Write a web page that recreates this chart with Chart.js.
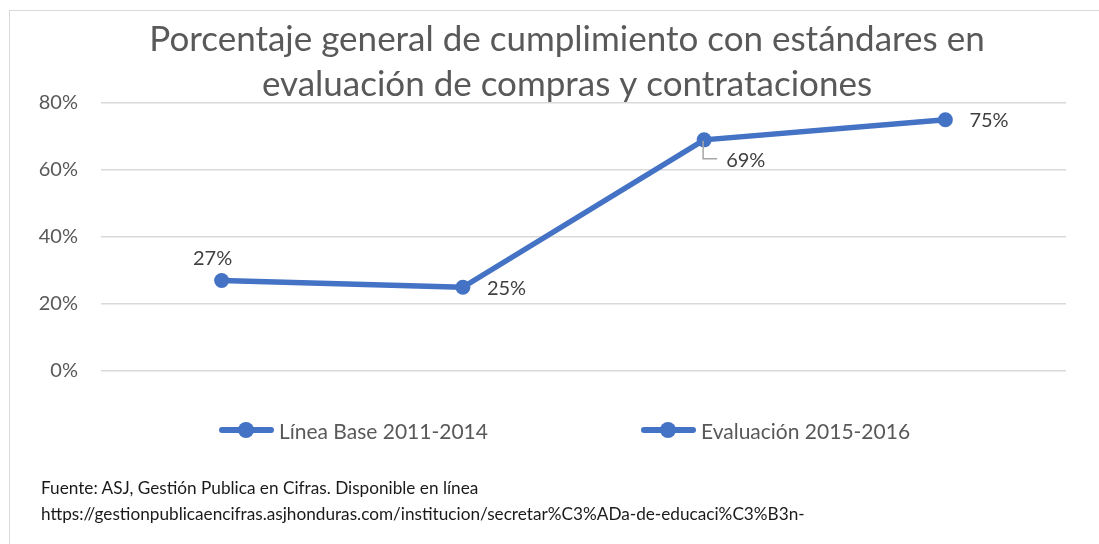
<!DOCTYPE html>
<html>
<head>
<meta charset="utf-8">
<script src="https://cdn.jsdelivr.net/npm/chart.js@4/dist/chart.umd.min.js"></script>
<style>
  html, body { margin: 0; padding: 0; background: #fff; overflow: hidden; }
  body { width: 1099px; height: 544px; position: relative; font-family: Lato, "Open Sans", sans-serif; }
  #marco { position: absolute; left: 9px; top: 10px; width: 1200px; height: 700px; border: 1px solid #d9d9d9; box-sizing: border-box; }
  #grafico { position: absolute; left: 0; top: 0; }
  #leyenda { position: absolute; left: 0; top: 417px; width: 1129px; display: flex; justify-content: center; gap: 153px; }
  .item { display: flex; align-items: center; font-size: 21px; color: #595959; height: 26px; }
  .icono { position: relative; width: 55px; height: 16px; margin-right: 5px; }
  .icono .linea { position: absolute; left: 0; right: 0; top: 5px; height: 6px; border-radius: 3px; }
  .icono .punto { position: absolute; left: 19px; top: 0; width: 16px; height: 16px; border-radius: 50%; }
  #fuente { position: absolute; left: 41px; top: 475px; font-size: 17.2px; line-height: 26px; color: #1a1a1a; }
</style>
</head>
<body>
<div id="marco"></div>
<canvas id="grafico" width="1099" height="544"></canvas>
<div id="leyenda"></div>
<div id="fuente">
  Fuente: ASJ, Gestión Publica en Cifras. Disponible en línea<br>
  https://gestionpublicaencifras.asjhonduras.com/institucion/secretar%C3%ADa-de-educaci%C3%B3n-
</div>
<script>
// Datos del gráfico
const titulo = ['Porcentaje general de cumplimiento con estándares en', 'evaluación de compras y contrataciones'];
const categorias = ['Línea Base 2011', 'Línea Base 2014', 'Evaluación 2015', 'Evaluación 2016'];
const lineaBase = [27, 25, null, null];
const evaluacion = [null, 25, 69, 75];
const ticksY = [0, 20, 40, 60, 80];

// Posición de cada etiqueta (por categoría)
const posEtiqueta = ['arriba', 'derecha', 'abajoGuia', 'derecha'];

const azul = '#4472C4';
const fuente = 'Lato, "Open Sans", sans-serif';

// Plugin para etiquetas de datos
const etiquetasPlugin = {
    id: 'etiquetas',
    afterDatasetsDraw(chart) {
        const ctx = chart.ctx;
        const hechas = {};
        ctx.save();
        ctx.font = '20px ' + fuente;
        ctx.fillStyle = '#404040';
        ctx.textBaseline = 'middle';
        chart.data.datasets.forEach((ds, di) => {
            const meta = chart.getDatasetMeta(di);
            meta.data.forEach((pt, i) => {
                const v = ds.data[i];
                if (v === null || hechas[i]) return;
                const radios = ds.pointRadius;
                if (Array.isArray(radios) && radios[i] === 0) return;
                hechas[i] = true;
                const txt = v + '%';
                const pos = posEtiqueta[i];
                if (pos === 'arriba') {
                    ctx.textAlign = 'center';
                    ctx.fillText(txt, pt.x - 9, pt.y - 22);
                } else if (pos === 'derecha') {
                    ctx.textAlign = 'left';
                    ctx.fillText(txt, pt.x + 24, pt.y + 1);
                } else if (pos === 'abajoGuia') {
                    ctx.strokeStyle = '#a6a6a6';
                    ctx.lineWidth = 1.5;
                    ctx.beginPath();
                    ctx.moveTo(pt.x - 1, pt.y + 1);
                    ctx.lineTo(pt.x - 1, pt.y + 19);
                    ctx.lineTo(pt.x + 13, pt.y + 19);
                    ctx.stroke();
                    ctx.textAlign = 'left';
                    ctx.fillText(txt, pt.x + 22, pt.y + 21);
                }
            });
        });
        ctx.restore();
    }
};

const grafico = new Chart(document.getElementById('grafico'), {
    type: 'line',
    data: {
        labels: categorias,
        datasets: [{
            label: 'Línea Base 2011-2014',
            data: lineaBase,
            borderColor: azul,
            backgroundColor: azul,
            borderWidth: 5.5,
            pointRadius: 7.5,
            pointBackgroundColor: azul,
            pointBorderWidth: 0,
            borderCapStyle: 'round',
            tension: 0
        }, {
            label: 'Evaluación 2015-2016',
            data: evaluacion,
            borderColor: azul,
            backgroundColor: azul,
            borderWidth: 5.5,
            pointRadius: [0, 0, 7.5, 7.5],
            pointBackgroundColor: azul,
            pointBorderWidth: 0,
            borderCapStyle: 'round',
            tension: 0
        }]
    },
    options: {
        responsive: false,
        animation: false,
        layout: {
            padding: { left: 35, right: 0, top: 0, bottom: 173 }
        },
        plugins: {
            legend: { display: false },
            tooltip: { enabled: false },
            title: {
                display: true,
                text: titulo,
                color: '#595959',
                font: { family: fuente, size: 35, weight: '400', lineHeight: '45px' },
                padding: { top: 17, bottom: -4 }
            }
        },
        scales: {
            x: {
                display: false,
                offset: true
            },
            y: {
                min: 0,
                max: 80,
                afterBuildTicks: function(scale) {
                    scale.ticks = ticksY.map(v => ({ value: v }));
                },
                afterFit: function(scale) {
                    scale.width = 66;
                },
                border: { display: false },
                grid: { color: '#d9d9d9', lineWidth: 1.5, drawTicks: false },
                ticks: {
                    padding: 23,
                    color: '#595959',
                    font: { family: fuente, size: 20 },
                    callback: function(value) {
                        return value + '%';
                    }
                }
            },
            // eje derecho vacío, solo reserva el margen
            yDer: {
                position: 'right',
                afterFit: function(scale) {
                    scale.width = 33;
                },
                border: { display: false },
                grid: { display: false },
                ticks: { display: false }
            }
        }
    },
    plugins: [etiquetasPlugin]
});

// Leyenda en HTML a partir de los datos del gráfico
const leyenda = document.getElementById('leyenda');
grafico.data.datasets.forEach(ds => {
    const item = document.createElement('div');
    item.className = 'item';
    item.innerHTML = '<span class="icono"><span class="linea" style="background:' + ds.borderColor + '"></span>' +
        '<span class="punto" style="background:' + ds.borderColor + '"></span></span>' + ds.label;
    leyenda.appendChild(item);
});
</script>
</body>
</html>
